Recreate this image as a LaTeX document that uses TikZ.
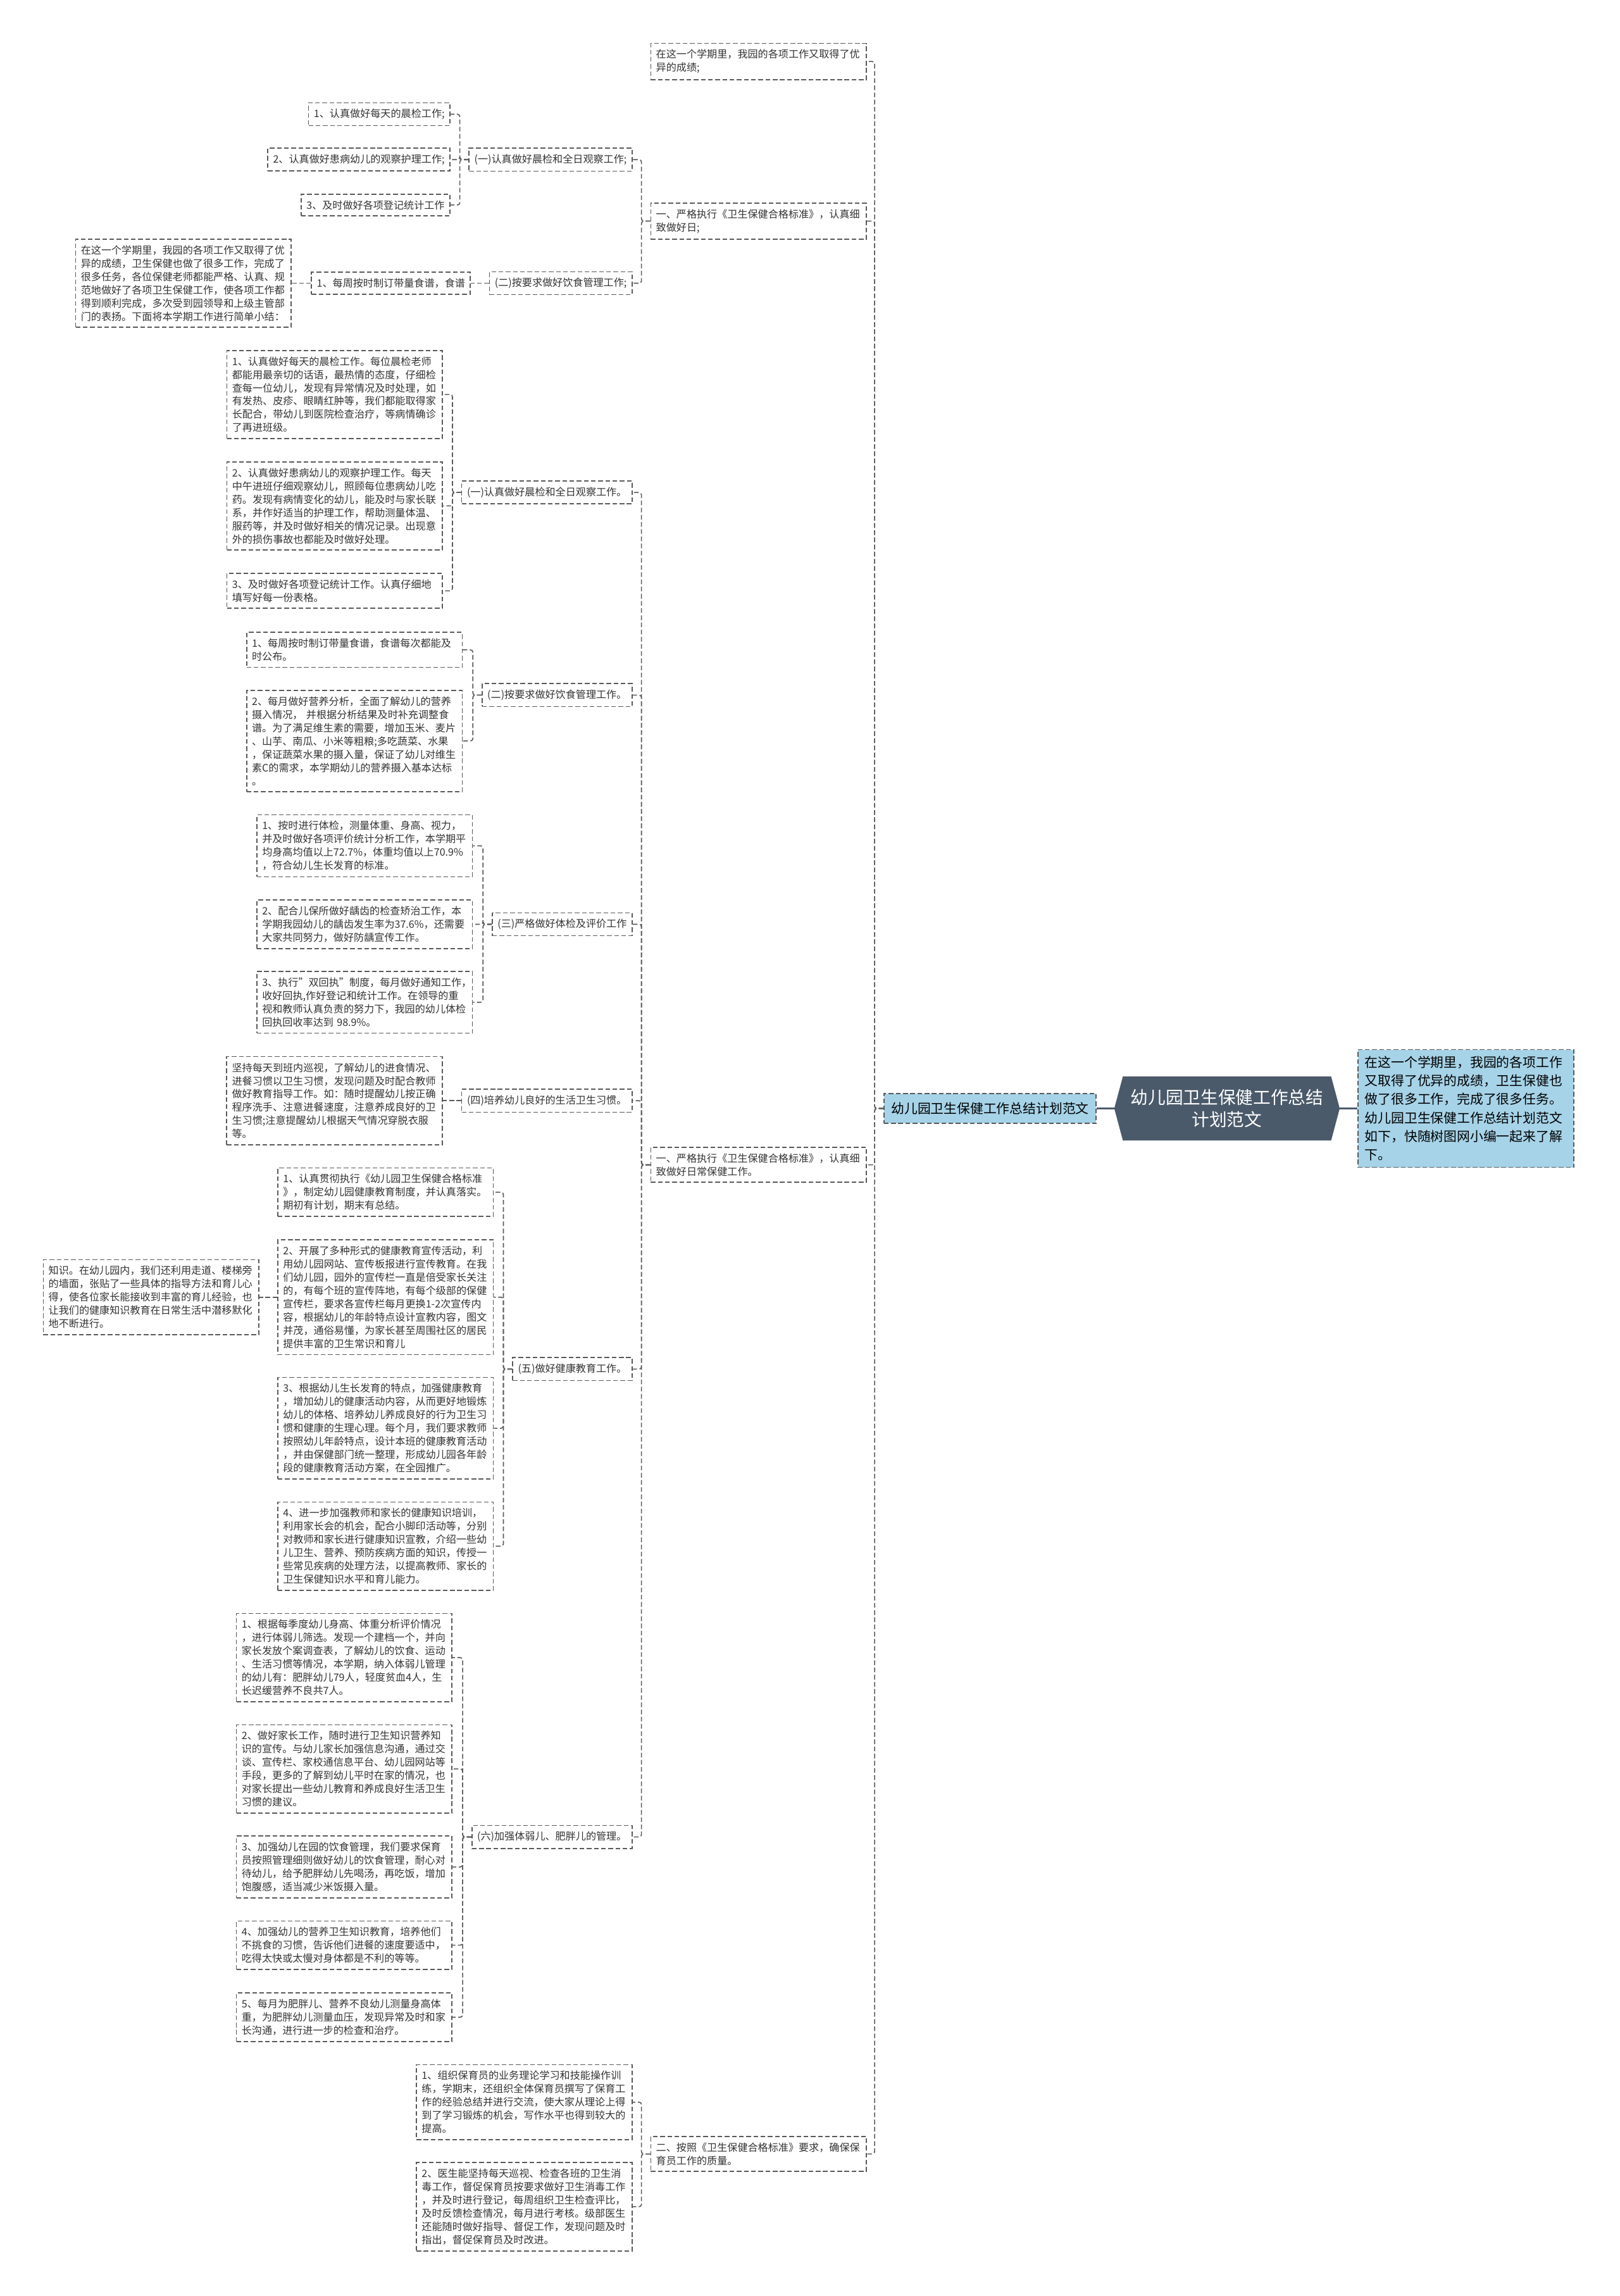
\documentclass[tikz,border=0pt]{standalone}
\usepackage{fontspec}
\setmainfont{Noto Sans CJK SC}
\usetikzlibrary{shapes.symbols}
\definecolor{rootfill}{HTML}{4B5A6A}
\definecolor{bluefill}{HTML}{A6D3E8}
\definecolor{linegray}{HTML}{595959}
\definecolor{textgray}{HTML}{333333}

\begin{document}
\begin{tikzpicture}[x=0.5mm, y=-0.5mm,
    box/.style={draw=linegray, line width=0.35mm, dash pattern=on 1.6mm off 0.85mm, fill=white, text=textgray,
        inner xsep=1.8mm, inner ysep=2.1mm, align=left, font=\fontsize{9.9pt}{12.9pt}\selectfont},
    wide/.style={box, text width=70mm},
    link/.style={draw=linegray, line width=0.35mm, dash pattern=on 1.6mm off 0.85mm, rounded corners=0.8mm},
    rootlink/.style={draw=rootfill, line width=0.6mm}]
    \useasboundingbox (0,0) rectangle (1106,1568);

    % centre and the two first boxes
    \node[signal, signal to=east and west, signal pointer angle=150, fill=rootfill, text=white, align=center,
        inner xsep=2.7mm, inner ysep=4.4mm, font=\fontsize{17pt}{21.5pt}\selectfont] (root) at (838,757)
        {幼儿园卫生保健工作总结\\计划范文};
    \node[box, fill=bluefill, text=black, anchor=west, text width=69mm, inner xsep=2.4mm, inner ysep=2.2mm,
        font=\fontsize{12.8pt}{18pt}\selectfont] (intro) at (927,757)
        {在这一个学期里，我园的各项工作\\又取得了优异的成绩，卫生保健也\\做了很多工作，完成了很多任务。\\幼儿园卫生保健工作总结计划范文\\如下，快随树图网小编一起来了解\\下。};
    \node[box, fill=bluefill, text=black, anchor=east, inner xsep=2.5mm, inner ysep=3mm,
        font=\fontsize{12.8pt}{18pt}\selectfont] (main) at (749,757) {幼儿园卫生保健工作总结计划范文};
    \draw[rootlink] (root.west) -- (main.east);
    \draw[rootlink] (root.east) -- (intro.west);

    % first level
    \node[wide, anchor=east] (prev) at (592,42) {在这一个学期里，我园的各项工作又取得了优\\异的成绩;};
    \node[wide, anchor=east] (stdA) at (592,151) {一、严格执行《卫生保健合格标准》，认真细\\致做好日;};
    \node[wide, anchor=east] (stdB) at (592,795.5) {一、严格执行《卫生保健合格标准》，认真细\\致做好日常保健工作。};
    \node[wide, anchor=east] (staff) at (592,1471) {二、按照《卫生保健合格标准》要求，确保保\\育员工作的质量。};
    \draw[link] (main.west) -- ++(-3mm,0) |- (prev.east);
    \draw[link] (main.west) -- ++(-3mm,0) |- (stdA.east);
    \draw[link] (main.west) -- ++(-3mm,0) |- (stdB.east);
    \draw[link] (main.west) -- ++(-3mm,0) |- (staff.east);

    % branch stdA
    \node[box, anchor=east] (aOne) at (432,109) {(一)认真做好晨检和全日观察工作;};
    \node[box, anchor=east] (aTwo) at (432,193.4) {(二)按要求做好饮食管理工作;};
    \draw[link] (stdA.west) -- ++(-3mm,0) |- (aOne.east);
    \draw[link] (stdA.west) -- ++(-3mm,0) |- (aTwo.east);
    \node[box, anchor=east] (aOne1) at (307.6,78) {1、认真做好每天的晨检工作;};
    \node[box, anchor=east] (aOne2) at (307.6,109) {2、认真做好患病幼儿的观察护理工作;};
    \node[box, anchor=east] (aOne3) at (307.6,140) {3、及时做好各项登记统计工作};
    \draw[link] (aOne.west) -- ++(-3mm,0) |- (aOne1.east);
    \draw[link] (aOne.west) -- ++(-3mm,0) |- (aOne2.east);
    \draw[link] (aOne.west) -- ++(-3mm,0) |- (aOne3.east);
    \node[box, anchor=east] (aTwo1) at (321.6,193.4) {1、每周按时制订带量食谱，食谱};
    \node[wide, anchor=east] (aTwoX) at (199.2,193.4) {在这一个学期里，我园的各项工作又取得了优\\异的成绩，卫生保健也做了很多工作，完成了\\很多任务，各位保健老师都能严格、认真、规\\范地做好了各项卫生保健工作，使各项工作都\\得到顺利完成，多次受到园领导和上级主管部\\门的表扬。下面将本学期工作进行简单小结：};
    \draw[link] (aTwo.west) -- (aTwo1.east);
    \draw[link] (aTwo1.west) -- (aTwoX.east);

    % branch stdB
    \node[box, anchor=east] (bOne) at (432,336.3) {(一)认真做好晨检和全日观察工作。};
    \node[box, anchor=east] (bTwo) at (432,474.7) {(二)按要求做好饮食管理工作。};
    \node[box, anchor=east] (bThree) at (432,631.2) {(三)严格做好体检及评价工作};
    \node[box, anchor=east] (bFour) at (432,751.7) {(四)培养幼儿良好的生活卫生习惯。};
    \node[box, anchor=east] (bFive) at (432,935) {(五)做好健康教育工作。};
    \node[box, anchor=east] (bSix) at (432,1254.5) {(六)加强体弱儿、肥胖儿的管理。};
    \draw[link] (stdB.west) -- ++(-3mm,0) |- (bOne.east);
    \draw[link] (stdB.west) -- ++(-3mm,0) |- (bTwo.east);
    \draw[link] (stdB.west) -- ++(-3mm,0) |- (bThree.east);
    \draw[link] (stdB.west) -- ++(-3mm,0) |- (bFour.east);
    \draw[link] (stdB.west) -- ++(-3mm,0) |- (bFive.east);
    \draw[link] (stdB.west) -- ++(-3mm,0) |- (bSix.east);

    \node[wide, anchor=east] (bOne1) at (302.5,269.4) {1、认真做好每天的晨检工作。每位晨检老师\\都能用最亲切的话语，最热情的态度，仔细检\\查每一位幼儿，发现有异常情况及时处理，如\\有发热、皮疹、眼睛红肿等，我们都能取得家\\长配合，带幼儿到医院检查治疗，等病情确诊\\了再进班级。};
    \node[wide, anchor=east] (bOne2) at (302.5,345.5) {2、认真做好患病幼儿的观察护理工作。每天\\中午进班仔细观察幼儿，照顾每位患病幼儿吃\\药。发现有病情变化的幼儿，能及时与家长联\\系，并作好适当的护理工作，帮助测量体温、\\服药等，并及时做好相关的情况记录。出现意\\外的损伤事故也都能及时做好处理。};
    \node[wide, anchor=east] (bOne3) at (302.5,403.5) {3、及时做好各项登记统计工作。认真仔细地\\填写好每一份表格。};
    \draw[link] (bOne.west) -- ++(-3mm,0) |- (bOne1.east);
    \draw[link] (bOne.west) -- ++(-3mm,0) |- (bOne2.east);
    \draw[link] (bOne.west) -- ++(-3mm,0) |- (bOne3.east);

    \node[wide, anchor=east] (bTwo1) at (316,443.8) {1、每周按时制订带量食谱，食谱每次都能及\\时公布。};
    \node[wide, anchor=east] (bTwo2) at (316,506) {2、每月做好营养分析，全面了解幼儿的营养\\摄入情况， 并根据分析结果及时补充调整食\\谱。为了满足维生素的需要，增加玉米、麦片\\、山芋、南瓜、小米等粗粮;多吃蔬菜、水果\\，保证蔬菜水果的摄入量，保证了幼儿对维生\\素C的需求，本学期幼儿的营养摄入基本达标\\。};
    \draw[link] (bTwo.west) -- ++(-3mm,0) |- (bTwo1.east);
    \draw[link] (bTwo.west) -- ++(-3mm,0) |- (bTwo2.east);

    \node[wide, anchor=east] (bThree1) at (323,577.6) {1、按时进行体检，测量体重、身高、视力，\\并及时做好各项评价统计分析工作，本学期平\\均身高均值以上72.7\%，体重均值以上70.9\%\\，符合幼儿生长发育的标准。};
    \node[wide, anchor=east] (bThree2) at (323,631.2) {2、配合儿保所做好龋齿的检查矫治工作，本\\学期我园幼儿的龋齿发生率为37.6\%，还需要\\大家共同努力，做好防龋宣传工作。};
    \node[wide, anchor=east] (bThree3) at (323,684.5) {3、执行"双回执"制度，每月做好通知工作，\\收好回执,作好登记和统计工作。在领导的重\\视和教师认真负责的努力下，我园的幼儿体检\\回执回收率达到 98.9\%。};
    \draw[link] (bThree.west) -- ++(-3mm,0) |- (bThree1.east);
    \draw[link] (bThree.west) -- ++(-3mm,0) |- (bThree2.east);
    \draw[link] (bThree.west) -- ++(-3mm,0) |- (bThree3.east);

    \node[wide, anchor=east] (bFour1) at (302.4,751.7) {坚持每天到班内巡视，了解幼儿的进食情况、\\进餐习惯以卫生习惯，发现问题及时配合教师\\做好教育指导工作。如：随时提醒幼儿按正确\\程序洗手、注意进餐速度，注意养成良好的卫\\生习惯;注意提醒幼儿根据天气情况穿脱衣服\\等。};
    \draw[link] (bFour.west) -- (bFour1.east);

    \node[wide, anchor=east] (bFive1) at (337.3,814.2) {1、认真贯彻执行《幼儿园卫生保健合格标准\\》，制定幼儿园健康教育制度，并认真落实。\\期初有计划，期末有总结。};
    \node[wide, anchor=east] (bFive2) at (337.3,885.9) {2、开展了多种形式的健康教育宣传活动，利\\用幼儿园网站、宣传板报进行宣传教育。在我\\们幼儿园，园外的宣传栏一直是倍受家长关注\\的，有每个班的宣传阵地，有每个级部的保健\\宣传栏，要求各宣传栏每月更换1-2次宣传内\\容，根据幼儿的年龄特点设计宣教内容，图文\\并茂，通俗易懂，为家长甚至周围社区的居民\\提供丰富的卫生常识和育儿};
    \node[wide, anchor=east] (bFive3) at (337.3,975.4) {3、根据幼儿生长发育的特点，加强健康教育\\，增加幼儿的健康活动内容，从而更好地锻炼\\幼儿的体格、培养幼儿养成良好的行为卫生习\\惯和健康的生理心理。每个月，我们要求教师\\按照幼儿年龄特点，设计本班的健康教育活动\\，并由保健部门统一整理，形成幼儿园各年龄\\段的健康教育活动方案，在全园推广。};
    \node[wide, anchor=east] (bFive4) at (337.3,1055.9) {4、进一步加强教师和家长的健康知识培训，\\利用家长会的机会，配合小脚印活动等，分别\\对教师和家长进行健康知识宣教，介绍一些幼\\儿卫生、营养、预防疾病方面的知识，传授一\\些常见疾病的处理方法，以提高教师、家长的\\卫生保健知识水平和育儿能力。};
    \node[wide, anchor=east] (bFive2X) at (177.1,885.9) {知识。在幼儿园内，我们还利用走道、楼梯旁\\的墙面，张贴了一些具体的指导方法和育儿心\\得，使各位家长能接收到丰富的育儿经验，也\\让我们的健康知识教育在日常生活中潜移默化\\地不断进行。};
    \draw[link] (bFive.west) -- ++(-3mm,0) |- (bFive1.east);
    \draw[link] (bFive.west) -- ++(-3mm,0) |- (bFive2.east);
    \draw[link] (bFive.west) -- ++(-3mm,0) |- (bFive3.east);
    \draw[link] (bFive.west) -- ++(-3mm,0) |- (bFive4.east);
    \draw[link] (bFive2.west) -- (bFive2X.east);

    \node[wide, anchor=east] (bSix1) at (309,1132) {1、根据每季度幼儿身高、体重分析评价情况\\，进行体弱儿筛选。发现一个建档一个，并向\\家长发放个案调查表，了解幼儿的饮食、运动\\、生活习惯等情况，本学期，纳入体弱儿管理\\的幼儿有：肥胖幼儿79人，轻度贫血4人，生\\长迟缓营养不良共7人。};
    \node[wide, anchor=east] (bSix2) at (309,1208) {2、做好家长工作，随时进行卫生知识营养知\\识的宣传。与幼儿家长加强信息沟通，通过交\\谈、宣传栏、家校通信息平台、幼儿园网站等\\手段，更多的了解到幼儿平时在家的情况，也\\对家长提出一些幼儿教育和养成良好生活卫生\\习惯的建议。};
    \node[wide, anchor=east] (bSix3) at (309,1275) {3、加强幼儿在园的饮食管理，我们要求保育\\员按照管理细则做好幼儿的饮食管理，耐心对\\待幼儿，给予肥胖幼儿先喝汤，再吃饭，增加\\饱腹感，适当减少米饭摄入量。};
    \node[wide, anchor=east] (bSix4) at (309,1328.4) {4、加强幼儿的营养卫生知识教育，培养他们\\不挑食的习惯，告诉他们进餐的速度要适中，\\吃得太快或太慢对身体都是不利的等等。};
    \node[wide, anchor=east] (bSix5) at (309,1377.6) {5、每月为肥胖儿、营养不良幼儿测量身高体\\重，为肥胖幼儿测量血压，发现异常及时和家\\长沟通，进行进一步的检查和治疗。};
    \draw[link] (bSix.west) -- ++(-3mm,0) |- (bSix1.east);
    \draw[link] (bSix.west) -- ++(-3mm,0) |- (bSix2.east);
    \draw[link] (bSix.west) -- ++(-3mm,0) |- (bSix3.east);
    \draw[link] (bSix.west) -- ++(-3mm,0) |- (bSix4.east);
    \draw[link] (bSix.west) -- ++(-3mm,0) |- (bSix5.east);

    % branch staff
    \node[wide, anchor=east] (staff1) at (432,1435.6) {1、组织保育员的业务理论学习和技能操作训\\练，学期末，还组织全体保育员撰写了保育工\\作的经验总结并进行交流，使大家从理论上得\\到了学习锻炼的机会，写作水平也得到较大的\\提高。};
    \node[wide, anchor=east] (staff2) at (432,1507) {2、医生能坚持每天巡视、检查各班的卫生消\\毒工作，督促保育员按要求做好卫生消毒工作\\，并及时进行登记，每周组织卫生检查评比，\\及时反馈检查情况，每月进行考核。级部医生\\还能随时做好指导、督促工作，发现问题及时\\指出，督促保育员及时改进。};
    \draw[link] (staff.west) -- ++(-3mm,0) |- (staff1.east);
    \draw[link] (staff.west) -- ++(-3mm,0) |- (staff2.east);
\end{tikzpicture}
\end{document}
